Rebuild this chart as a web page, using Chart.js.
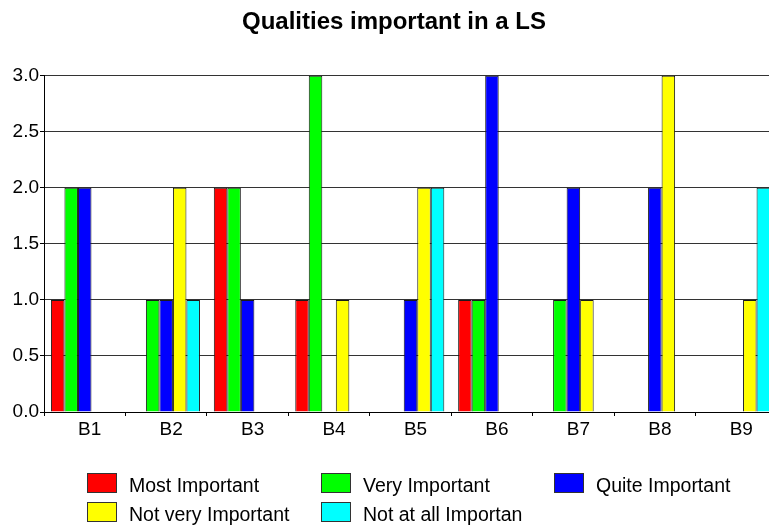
<!DOCTYPE html>
<html>
<head>
<meta charset="utf-8">
<script src="https://cdn.jsdelivr.net/npm/chart.js@4/dist/chart.umd.min.js"></script>
<style>
    html, body { margin: 0; padding: 0; background: #fff; overflow: hidden; }
    #wrap { position: relative; width: 769px; height: 525px; overflow: hidden; }
    #chart { position: absolute; left: 0; top: 0; }
    .legend-box { position: absolute; width: 28px; height: 18px; border: 1px solid #333; }
    .legend-text { position: absolute; font: 19.5px "Liberation Sans", Arial, sans-serif; line-height: 20px; color: #000; white-space: nowrap; }
</style>
</head>
<body>
<div id="wrap">
    <canvas id="chart" width="788" height="525" style="width:788px;height:525px;"></canvas>
    <div id="legend"></div>
</div>
<script>
// Data
const categories = ['B1', 'B2', 'B3', 'B4', 'B5', 'B6', 'B7', 'B8', 'B9'];
const seriesNames = ['Most Important', 'Very Important', 'Quite Important', 'Not very Important', 'Not at all Importan'];
const seriesColors = ['#ff0000', '#00ff00', '#0000ff', '#ffff00', '#00ffff'];
const mostImportant = [1, 0, 2, 1, 0, 1, 0, 0, 0];
const veryImportant = [2, 1, 2, 3, 0, 1, 1, 0, 0];
const quiteImportant = [2, 1, 1, 0, 1, 3, 2, 2, 0];
const notVeryImportant = [0, 2, 0, 1, 2, 0, 1, 3, 1];
const notAtAllImportant = [0, 1, 0, 0, 2, 0, 0, 0, 2];
const seriesValues = [mostImportant, veryImportant, quiteImportant, notVeryImportant, notAtAllImportant];

const FONT = '"Liberation Sans", Arial, sans-serif';
Chart.defaults.font.family = FONT;
Chart.defaults.color = '#000';

const datasets = seriesNames.map((name, i) => ({
    label: name,
    data: seriesValues[i],
    backgroundColor: seriesColors[i],
    borderColor: '#1a1a1a',
    borderWidth: 1,
    borderSkipped: 'start',
    categoryPercentage: 0.83,
    barPercentage: 1.0
}));

new Chart(document.getElementById('chart'), {
    type: 'bar',
    data: { labels: categories, datasets: datasets },
    options: {
        responsive: false,
        animation: false,
        layout: { padding: { left: 11, right: 11, top: 0, bottom: 83 } },
        plugins: {
            legend: { display: false },
            tooltip: { enabled: false },
            title: {
                display: true,
                text: 'Qualities important in a LS',
                color: '#000',
                font: { size: 24, weight: 'bold', family: FONT },
                padding: { top: 8, bottom: 39 }
            }
        },
        scales: {
            x: {
                offset: true,
                grid: {
                    display: true,
                    drawOnChartArea: false,
                    drawTicks: true,
                    tickLength: 4,
                    color: '#000',
                    offset: true
                },
                border: { display: true, color: '#000', width: 1 },
                ticks: {
                    font: { size: 19 },
                    color: '#000',
                    padding: 2,
                    labelOffset: 5,
                    maxRotation: 0,
                    autoSkip: false
                },
                afterFit: (scale) => { scale.height = 30; }
            },
            y: {
                min: 0,
                max: 3,
                grid: {
                    color: '#333',
                    lineWidth: 1,
                    drawTicks: true,
                    tickLength: 4,
                    tickColor: '#000'
                },
                border: { display: true, color: '#000', width: 1 },
                ticks: {
                    stepSize: 0.5,
                    font: { size: 19 },
                    color: '#000',
                    padding: 1,
                    callback: (v) => Number(v).toFixed(1)
                },
                afterFit: (scale) => { scale.width = 33; }
            }
        }
    }
});

// Legend (3 columns, 2 rows)
const legendEl = document.getElementById('legend');
const colX = [87, 321, 554];
const rowY = [473, 502];
legendEl.innerHTML = seriesNames.map((name, i) => {
    const x = colX[i % 3];
    const y = rowY[Math.floor(i / 3)];
    return `<div class="legend-box" style="left:${x}px;top:${y}px;background:${seriesColors[i]}"></div>
            <div class="legend-text" style="left:${x + 42}px;top:${y + 2}px">${name}</div>`;
}).join('');
</script>
</body>
</html>
